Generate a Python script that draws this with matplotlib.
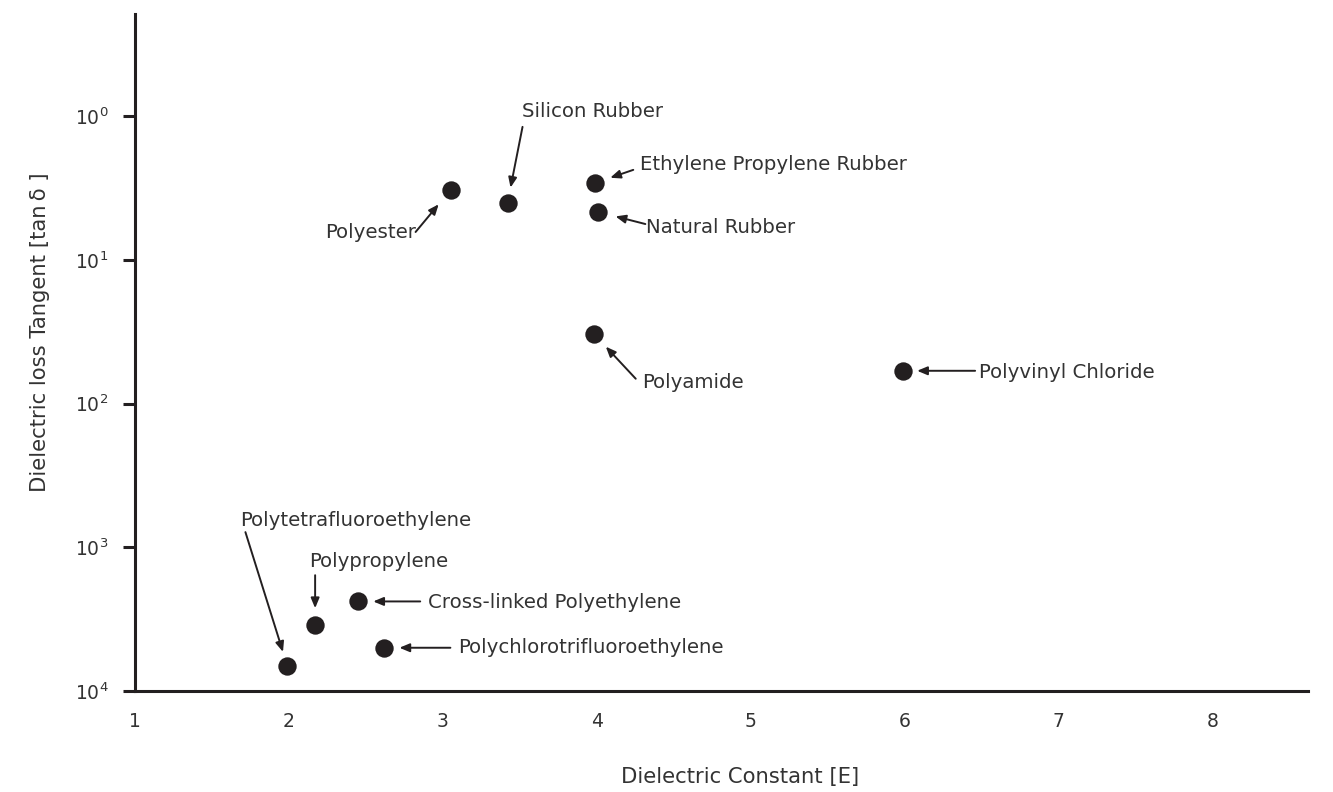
import matplotlib
matplotlib.use("Agg")
import matplotlib.pyplot as plt
from matplotlib.ticker import FixedLocator, FixedFormatter

plt.rcParams['font.family'] = ['DejaVu Sans']
plt.rcParams['mathtext.fontset'] = 'dejavusans'

materials = ["Polyester", "Silicon Rubber", "Ethylene Propylene Rubber", "Natural Rubber",
             "Polyamide", "Polyvinyl Chloride", "Polytetrafluoroethylene", "Polypropylene",
             "Cross-linked Polyethylene", "Polychlorotrifluoroethylene"]
dielectric_constant = [3.05, 3.42, 3.99, 4.01, 3.98, 5.99, 1.99, 2.17, 2.45, 2.62]
loss_tangent = [0.306, 0.249, 0.343, 0.215, 0.0306, 0.0169, 1.49e-4, 2.87e-4, 4.2e-4, 2.0e-4]

x_ticks = [1, 2, 3, 4, 5, 6, 7, 8]
y_ticks = [1, 1e-1, 1e-2, 1e-3, 1e-4]
y_tick_labels = ["$10^{0}$", "$10^{1}$", "$10^{2}$", "$10^{3}$", "$10^{4}$"]

# label layout: (text offset px, ha, arrow tail offset px, arrow tip offset px)
layout = {
    "Polyester": ((-35, -43), "right", (-35, -42), (-11, -15)),
    "Silicon Rubber": ((14, 91), "left", (15, 76), (4, 15)),
    "Ethylene Propylene Rubber": ((45, 18), "left", (38, 13), (15, 5)),
    "Natural Rubber": ((48, -15), "left", (47, -12), (17, -5)),
    "Polyamide": ((48, -49), "left", (42, -45), (12, -13)),
    "Polyvinyl Chloride": ((76, -2), "left", (72, 0), (14, 0)),
    "Polytetrafluoroethylene": ((-47, 146), "left", (-42, 134), (-5, 14)),
    "Polypropylene": ((-6, 64), "left", (0, 50), (0, 17)),
    "Cross-linked Polyethylene": ((70, -1), "left", (62, 0), (15, 0)),
    "Polychlorotrifluoroethylene": ((74, 0), "left", (66, 0), (15, 0)),
}

dark = "#231f20"
textc = "#333333"
fs = 14.2

fig = plt.figure(figsize=(13.33, 7.92), dpi=100)
ax = fig.add_axes([0.1013, 0.1275, 0.8799, 0.8548])
ax.set_yscale('log')
ax.set_xlim(1, 8.62)
ax.set_ylim(1e-4, 10 ** 0.71)

ax.scatter(dielectric_constant, loss_tangent, s=175, color=dark, zorder=3, linewidths=0)

for name, x, y in zip(materials, dielectric_constant, loss_tangent):
    toff, ha, tail, tip = layout[name]
    ax.annotate(name, xy=(x, y), xytext=toff, textcoords='offset pixels',
                ha=ha, va='center', fontsize=fs, color=textc)
    ax.annotate('', xy=(x, y), xytext=tail, textcoords='offset pixels',
                arrowprops=dict(arrowstyle='-|>,head_length=0.6,head_width=0.25',
                                color=dark, lw=1.4, shrinkA=0,
                                shrinkB=((tip[0] ** 2 + tip[1] ** 2) ** 0.5) * 0.72))

for s in ['top', 'right']:
    ax.spines[s].set_visible(False)
for s in ['left', 'bottom']:
    ax.spines[s].set_linewidth(2.2)
    ax.spines[s].set_color(dark)

ax.xaxis.set_major_locator(FixedLocator(x_ticks))
ax.xaxis.set_major_formatter(FixedFormatter([str(v) for v in x_ticks]))
ax.yaxis.set_major_locator(FixedLocator(y_ticks))
ax.yaxis.set_major_formatter(FixedFormatter(y_tick_labels))
ax.yaxis.set_minor_locator(FixedLocator([]))
ax.tick_params(axis='x', length=0, pad=15, labelsize=13.5, labelcolor=textc)
ax.tick_params(axis='y', length=9, width=2.2, color=dark, pad=10, labelsize=13.5, labelcolor=textc)

ax.set_xlabel("Dielectric Constant [E]", fontsize=15.2, color=textc)
ax.xaxis.set_label_coords(0.516, -0.112)
ax.set_ylabel("Dielectric loss Tangent [tan\u2009\u03b4 ]", fontsize=15.2, color=textc)
ax.yaxis.set_label_coords(-0.0725, 0.53)

fig.savefig("out.png", dpi=100)
